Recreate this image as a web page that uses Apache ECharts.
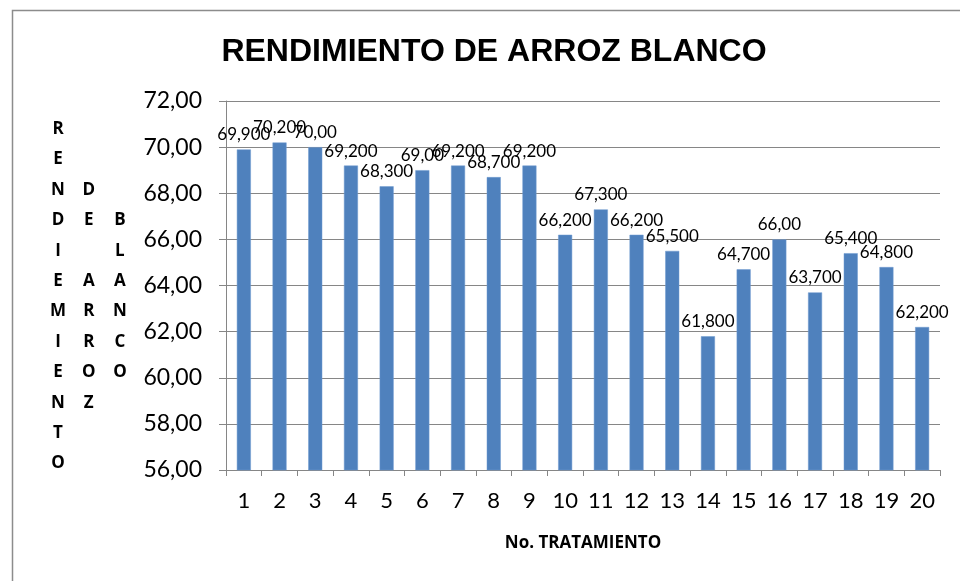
<!DOCTYPE html>
<html>
<head>
<meta charset="utf-8">
<script src="https://cdn.jsdelivr.net/npm/echarts@6/dist/echarts.min.js"></script>
<style>
  html, body { margin: 0; padding: 0; background: #fff; }
  #chart { width: 960px; height: 581px; }
</style>
</head>
<body>
<div id="chart"></div>
<script>
// data
var tratamientos = ['1', '2', '3', '4', '5', '6', '7', '8', '9', '10',
    '11', '12', '13', '14', '15', '16', '17', '18', '19', '20'];
var rendimiento = [69.9, 70.2, 70.0, 69.2, 68.3, 69.0, 69.2, 68.7, 69.2, 66.2,
    67.3, 66.2, 65.5, 61.8, 64.7, 66.0, 63.7, 65.4, 64.8, 62.2];
// label texts as printed on the chart
var etiquetas = ['69,900', '70,200', '70,00', '69,200', '68,300', '69,00', '69,200', '68,700', '69,200', '66,200',
    '67,300', '66,200', '65,500', '61,800', '64,700', '66,00', '63,700', '65,400', '64,800', '62,200'];
var yTicks = { min: 56, max: 72, interval: 2 };
// vertical axis title, one column per word group
var tituloY1 = ['R', 'E', 'N', 'D', 'I', 'E', 'M', 'I', 'E', 'N', 'T', 'O'];
var tituloY2 = ['', '', 'D', 'E', '', 'A', 'R', 'R', 'O', 'Z'];
var tituloY3 = ['', '', '', 'B', 'L', 'A', 'N', 'C', 'O'];

function loadRendimientoChart() {
    var chart = echarts.init(document.getElementById('chart'));

    var letterStyle = {
        fontFamily: 'Open Sans',
        fontWeight: 'bold',
        fontSize: 17,
        lineHeight: 30.4,
        fill: '#000',
        textAlign: 'center',
        textVerticalAlign: 'top'
    };

    var option = {
        animation: false,
        backgroundColor: '#fff',
        title: {
            text: 'RENDIMIENTO DE ARROZ BLANCO',
            left: 489,
            textAlign: 'center',
            top: 31,
            textStyle: {
                fontFamily: 'Liberation Sans',
                fontWeight: 'bold',
                fontSize: 32,
                color: '#000'
            }
        },
        grid: {
            left: 226,
            right: 20,
            top: 101,
            bottom: 111
        },
        graphic: [
            {
                type: 'rect',
                shape: { x: 12.5, y: 10.5, width: 1000, height: 1000 },
                style: { fill: 'none', stroke: '#8c8c8c', lineWidth: 1.5 },
                silent: true
            },
            {
                type: 'text', left: 50, top: 114,
                style: Object.assign({ text: tituloY1.join('\n') }, letterStyle)
            },
            {
                type: 'text', left: 82, top: 114,
                style: Object.assign({ text: tituloY2.join('\n') }, letterStyle)
            },
            {
                type: 'text', left: 113, top: 114,
                style: Object.assign({ text: tituloY3.join('\n') }, letterStyle)
            }
        ],
        xAxis: {
            type: 'category',
            data: tratamientos,
            name: 'No. TRATAMIENTO',
            nameLocation: 'middle',
            nameGap: 65,
            nameTextStyle: {
                fontFamily: 'Open Sans',
                fontWeight: 'bold',
                fontSize: 17,
                color: '#000'
            },
            axisLine: { lineStyle: { color: '#868686', width: 1 } },
            axisTick: { show: true, length: 6, lineStyle: { color: '#868686' } },
            axisLabel: {
                margin: 20,
                fontFamily: 'Lato',
                fontSize: 22,
                color: '#000'
            }
        },
        yAxis: {
            type: 'value',
            min: yTicks.min,
            max: yTicks.max,
            interval: yTicks.interval,
            axisLine: { show: true, lineStyle: { color: '#868686', width: 1 } },
            axisTick: { show: true, length: 7, lineStyle: { color: '#868686' } },
            splitLine: { lineStyle: { color: '#868686', width: 1 } },
            axisLabel: {
                margin: 24,
                fontFamily: 'Lato',
                fontSize: 23,
                color: '#000',
                formatter: function (v) { return v.toFixed(2).replace('.', ','); }
            }
        },
        series: [{
            name: 'Rendimiento',
            type: 'bar',
            data: rendimiento,
            barWidth: 14,
            itemStyle: { color: '#4f81bd', borderColor: '#6f9bd0', borderWidth: 0.5 },
            label: {
                show: true,
                position: 'top',
                distance: 6,
                fontFamily: 'Lato',
                fontSize: 17,
                color: '#000',
                formatter: function (p) { return etiquetas[p.dataIndex]; }
            }
        }]
    };

    chart.setOption(option);
}

loadRendimientoChart();
</script>
</body>
</html>
